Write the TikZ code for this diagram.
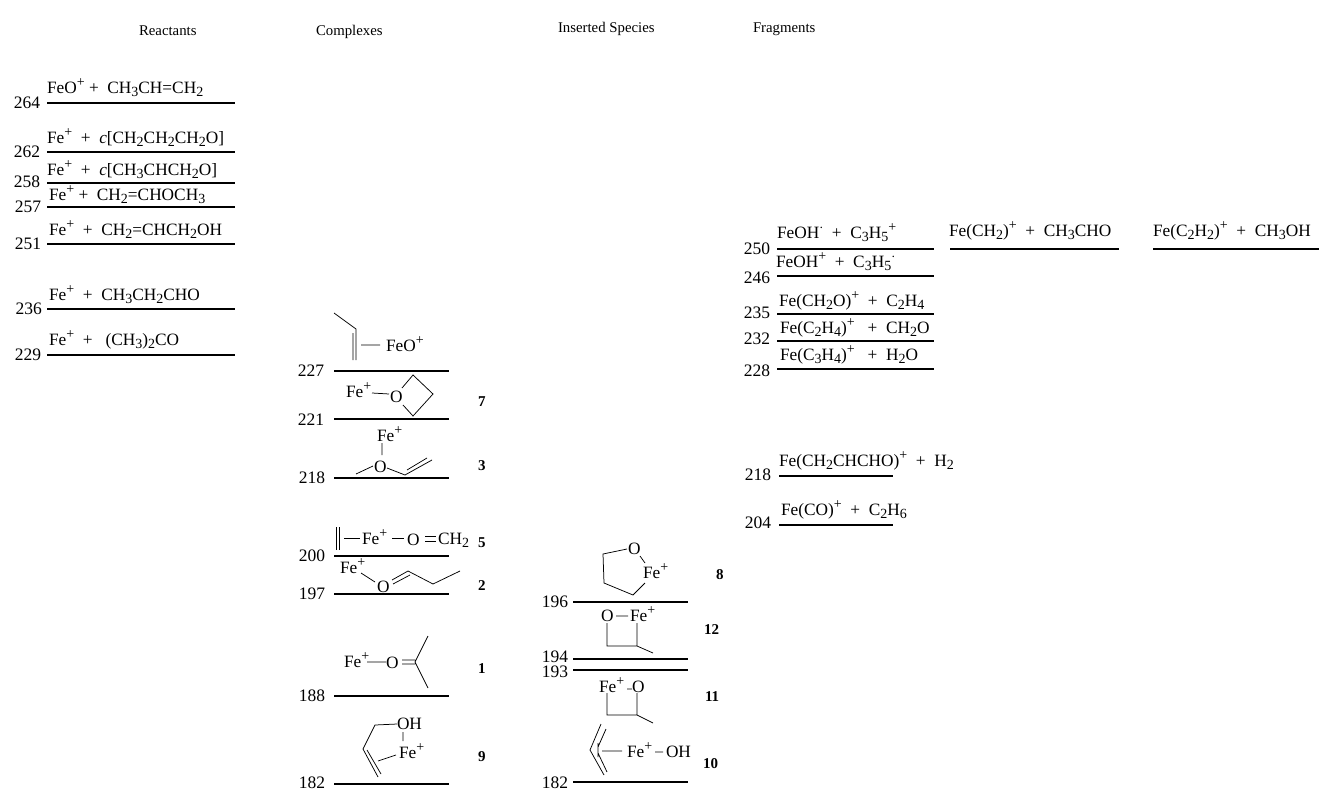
\documentclass[tikz,border=0pt]{standalone}
\usepackage{fontspec}
\setmainfont{Liberation Serif}
\newcommand\Sb[1]{\raisebox{-3.6pt}{\fontsize{14}{15}\selectfont #1}}
\newcommand\Sp[1]{\raisebox{6.8pt}{\fontsize{14}{15}\selectfont #1}}
\tikzset{
  lvl/.style={line width=1.9pt,black},
  bond/.style={line width=0.75pt,black},
  txt/.style={anchor=base west,inner sep=0pt,outer sep=0pt,font=\fontsize{17.3}{19}\selectfont},
  num/.style={anchor=base east,inner sep=0pt,outer sep=0pt,font=\fontsize{17.5}{19}\selectfont},
  idx/.style={anchor=base west,inner sep=0pt,outer sep=0pt,font=\fontsize{15}{16}\selectfont\bfseries},
  head/.style={anchor=base west,inner sep=0pt,outer sep=0pt,font=\fontsize{14.8}{16}\selectfont},
}
\begin{document}
\begin{tikzpicture}[x=1pt,y=-1pt]
\useasboundingbox (0,0) rectangle (1319,790);
% headings
\node[head] (h1) at (139,35) {Reactants};
\node[head] (h2) at (316,35) {Complexes};
\node[head] (h3) at (558,32) {Inserted Species};
\node[head] (h4) at (753,32) {Fragments};
% reactants
\foreach \y in {103,152,183,207,244,309,355} \draw[lvl] (47,\y) -- (235,\y);
\node[num] (n264) at (40,108) {264};
\node[txt] (t264) at (47,93) {FeO\Sp{+} + \ CH\Sb{3}CH=CH\Sb{2}};
\node[num] (n262) at (40,157) {262};
\node[txt] (t262) at (47,143) {Fe\Sp{+} \ + \ \textit{c}[CH\Sb{2}CH\Sb{2}CH\Sb{2}O]};
\node[num] (n258) at (40,187) {258};
\node[txt] (t258) at (47,175) {Fe\Sp{+} \ + \ \textit{c}[CH\Sb{3}CHCH\Sb{2}O]};
\node[num] (n257) at (41,212) {257};
\node[txt] (t257) at (49,200) {Fe\Sp{+} + \ CH\Sb{2}=CHOCH\Sb{3}};
\node[num] (n251) at (41,249) {251};
\node[txt] (t251) at (49,235) {Fe\Sp{+} \ + \ CH\Sb{2}=CHCH\Sb{2}OH};
\node[num] (n236) at (42,314) {236};
\node[txt] (t236) at (49,300) {Fe\Sp{+} \ + \ CH\Sb{3}CH\Sb{2}CHO};
\node[num] (n229) at (41,360) {229};
\node[txt] (t229) at (49,345) {Fe\Sp{+} \ + \ \ (CH\Sb{3})\Sb{2}CO};
% complexes levels
\foreach \y in {371,419,478,556,594,696,784} \draw[lvl] (334,\y) -- (449,\y);
\node[num] (n227) at (324,376) {227};
\node[num] (n221) at (324,425) {221};
\node[num] (n218) at (325,483) {218};
\node[num] (n200) at (325,561) {200};
\node[num] (n197) at (325,599) {197};
\node[num] (n188) at (325,701) {188};
\node[num] (n182) at (325,788) {182};
% 227
\draw[bond] (334,313) -- (356,329) -- (356,360) (353,333) -- (353,360) (361,345) -- (380,345);
\node[txt] (c227) at (386,351) {FeO\Sp{+}};
% 7
\node[txt] (c7a) at (346,397) {Fe\Sp{+}};
\node[txt] (c7o) at (390,402) {O};
\draw[bond] (372,393) -- (389,394) (402,388) -- (413,375) -- (433,394) -- (413,416) -- (403,405);
\node[idx] (i7) at (478,406) {7};
% 3
\node[txt] (c3a) at (377,441) {Fe\Sp{+}};
\node[txt] (c3o) at (374,472) {O};
\draw[bond] (382,443) -- (382,455) (356,474) -- (373,466) (387,468) -- (405,475) -- (432,460) (407,470) -- (427,458);
\node[idx] (i3) at (478,470) {3};
% 5
\draw[bond] (336,527) -- (336,550) (339,527) -- (339,550) (344,538) -- (360,538) (392,538) -- (404,538) (425,536) -- (436,536) (425,541) -- (436,541);
\node[txt] (c5a) at (362,544) {Fe\Sp{+}};
\node[txt] (c5o) at (407,545) {O};
\node[txt] (c5c) at (438,544) {CH\Sb{2}};
\node[idx] (i5) at (478,547) {5};
% 2
\node[txt] (c2a) at (340,573) {Fe\Sp{+}};
\node[txt] (c2o) at (377,592) {O};
\draw[bond] (361,573) -- (375,582) (392,580) -- (408,571) -- (433,584) -- (460,571) (393,584) -- (410,575);
\node[idx] (i2) at (478,590) {2};
% 1
\node[txt] (c1a) at (344,667) {Fe\Sp{+}};
\node[txt] (c1o) at (386,668) {O};
\draw[bond] (367,662) -- (386,662) (402,660) -- (415,660) (402,664) -- (415,664) (428,636) -- (415,662) -- (428,688);
\node[idx] (i1) at (478,673) {1};
% 9
\node[txt] (c9h) at (397,729) {OH};
\node[txt] (c9a) at (399,758) {Fe\Sp{+}};
\draw[bond] (397,724) -- (375,725) -- (363,749) -- (378,777) (367,750) -- (381,774) (396,755) -- (378,761) (403,732) -- (403,741);
\node[idx] (i9) at (478,761) {9};
% inserted levels
\foreach \y in {602,659,670,782} \draw[lvl] (573,\y) -- (688,\y);
\node[num] (n196) at (568,607) {196};
\node[num] (n194) at (568,662) {194};
\node[num] (n193) at (568,677) {193};
\node[num] (n182b) at (568,788) {182};
% 8
\node[txt] (c8o) at (628,554) {O};
\node[txt] (c8a) at (643,578) {Fe\Sp{+}};
\draw[bond] (627,549) -- (603,554) -- (604,583) -- (633,595) -- (645,583) (640,556) -- (645,563);
\node[idx] (i8) at (716,579) {8};
% 12
\node[txt] (c12o) at (601,621) {O};
\node[txt] (c12a) at (630,621) {Fe\Sp{+}};
\draw[bond] (616,616) -- (628,616) (607,623) -- (607,646) -- (637,646) -- (637,623) (637,646) -- (653,653);
\node[idx] (i12) at (704,634) {12};
% 11
\node[txt] (c11a) at (599,692) {Fe\Sp{+}};
\node[txt] (c11o) at (632,692) {O};
\draw[bond] (627,689) -- (632,689) (607,693) -- (607,715) -- (637,715) -- (637,693) (637,715) -- (653,723);
\node[idx] (i11) at (705,701) {11};
% 10
\draw[bond] (601,724) -- (590,750) -- (604,775) (606,729) -- (598,747) (598,753) -- (607,772) (598,743) -- (598,757) (602,751) -- (622,751) (655,752) -- (663,752);
\node[txt] (c10a) at (627,757) {Fe\Sp{+}};
\node[txt] (c10h) at (666,757) {OH};
\node[idx] (i10) at (703,768) {10};
% fragments
\foreach \y in {249,276,314,341,369} \draw[lvl] (777,\y) -- (934,\y);
\draw[lvl] (950,249) -- (1119,249);
\draw[lvl] (1153,249) -- (1319,249);
\foreach \y in {476,525} \draw[lvl] (779,\y) -- (893,\y);
\node[num] (n250) at (770,254) {250};
\node[txt] (t250) at (777,238) {FeOH\Sp{$\cdot$} \ + \ C\Sb{3}H\Sb{5}\Sp{+}};
\node[txt] (t250b) at (949,236) {Fe(CH\Sb{2})\Sp{+} \ + \ CH\Sb{3}CHO};
\node[txt] (t250c) at (1153,236) {Fe(C\Sb{2}H\Sb{2})\Sp{+} \ + \ CH\Sb{3}OH};
\node[num] (n246) at (770,283) {246};
\node[txt] (t246) at (776,267) {FeOH\Sp{+} \ + \ C\Sb{3}H\Sb{5}\Sp{$\cdot$}};
\node[num] (n235) at (770,318) {235};
\node[txt] (t235) at (779,306) {Fe(CH\Sb{2}O)\Sp{+} \ + \ C\Sb{2}H\Sb{4}};
\node[num] (n232) at (770,344) {232};
\node[txt] (t232) at (780,333) {Fe(C\Sb{2}H\Sb{4})\Sp{+} \ \ + \ CH\Sb{2}O};
\node[num] (n228) at (770,376) {228};
\node[txt] (t228) at (780,360) {Fe(C\Sb{3}H\Sb{4})\Sp{+} \ \ + \ H\Sb{2}O};
\node[num] (n218b) at (771,480) {218};
\node[txt] (t218) at (779,466) {Fe(CH\Sb{2}CHCHO)\Sp{+} \ + \ H\Sb{2}};
\node[num] (n204) at (771,528) {204};
\node[txt] (t204) at (781,515) {Fe(CO)\Sp{+} \ + \ C\Sb{2}H\Sb{6}};
\end{tikzpicture}
\end{document}
